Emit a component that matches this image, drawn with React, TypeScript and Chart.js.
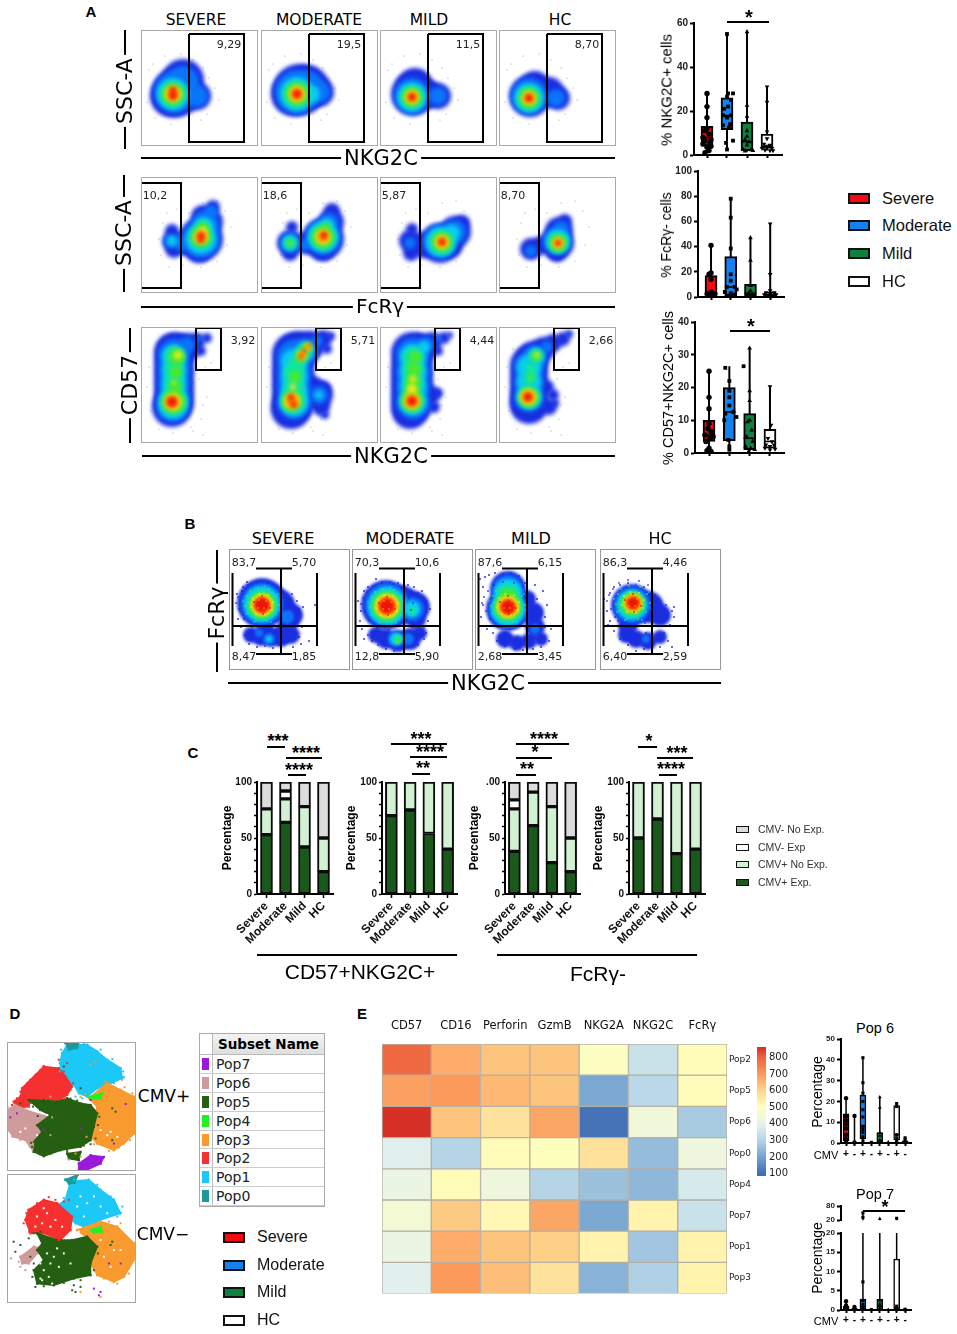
import { useEffect, useRef } from 'react';
import type { CSSProperties, ReactNode } from 'react';
import { Chart, registerables } from 'chart.js';

Chart.register(...registerables);

const ARIAL = '"Liberation Sans", Arial, sans-serif';
const FLOWFONT = '"DejaVu Sans", sans-serif';

// ── Panel A box plots: [min, q1, median, q3, max] ─────────────
const boxColors = ['#f50a14', '#1580f0', '#0f8040', '#ffffff'];
const boxShapes = ['circle', 'rect', 'triangle', 'triangle'];

const nkg2cBoxes = [[1, 4, 8, 13, 28], [2.5, 11.5, 18, 26, 55], [1.5, 2, 6, 15, 56], [2, 3, 4, 9.5, 31]];
const nkg2cPoints = [
  [[0, 28], [0, 22], [0, 17], [0, 12], [-.1, 11], [.1, 9.5], [-.2, 8], [.2, 7], [-.1, 6.5], [.15, 5.5], [-.2, 5], [.2, 4], [0, 3.5], [.1, 2], [-.1, 1]],
  [[0, 55], [.3, 28], [.05, 28], [0, 26.5], [.2, 25], [.05, 22], [-.15, 21], [-.2, 18], [.2, 18], [0, 17], [.15, 14], [-.2, 13.5], [.1, 12.5], [.3, 6.5], [-.05, 5.5], [0, 2.5]],
  [[0, 56], [0, 22.5], [0, 17.5], [0, 11], [0, 8.5], [-.1, 7], [.1, 6], [0, 4.5], [-.2, 2.5], [.2, 2.3], [.3, 2], [-.1, 1.8]],
  [[0, 31], [0, 24], [0, 10.5], [0, 7.5], [-.15, 5], [.15, 4.5], [0, 4], [-.25, 3], [.25, 3], [-.1, 2.2], [.15, 2], [.3, 2]],
];
const fcrBoxes = [[1, 1.5, 4, 17, 41], [0.5, 1, 8, 32, 78], [0.5, 1, 3, 10, 47], [0.5, 1, 2, 4, 58]];
const fcrPoints = [
  [[0, 41], [0, 19], [-.1, 18], [0, 14], [0, 4], [-.2, 2.5], [.2, 2.5], [.1, 1.5], [-.1, 1.5]],
  [[0, 78], [0, 63], [0, 38.5], [0, 18], [0, 13], [-.2, 8], [.2, 8], [.3, 6], [-.3, 4], [0, 3], [.2, 2], [-.2, 1]],
  [[0, 47], [0, 29], [0, 9], [0, 5], [-.1, 3], [.1, 2], [0, 1], [-.1, 0.5]],
  [[0, 58], [0, 18], [0, 5], [-.2, 3.5], [.2, 3.5], [0, 2.5], [-.3, 2], [.3, 2], [.1, 1]],
];
const cd57Boxes = [[0.5, 3.5, 5.5, 10, 25], [1, 3.8, 12.5, 20, 26.5], [0.5, 1, 4.5, 12, 32], [1, 1.5, 3.5, 7.2, 20.3]];
const cd57Points = [
  [[0, 25], [0, 17], [0, 13.5], [0, 9], [-.05, 7.5], [.1, 6.5], [-.2, 5.5], [.2, 5], [.05, 4.5], [-.15, 3.5], [0, 1.5], [-.1, .7], [.1, .5]],
  [[.7, 26.5], [-.2, 26], [0, 22], [0, 19], [0, 17], [0, 14.5], [.2, 12.5], [-.2, 12], [.35, 11], [-.25, 10], [-.05, 4], [0, 2], [0, 1]],
  [[0, 32], [0, 19], [0, 16], [0, 10], [-.1, 9.5], [.1, 7], [-.15, 5], [.15, 3.5], [-.2, 2], [.05, 1.5], [.25, 1], [-.05, .5]],
  [[0, 20.3], [.05, 8.5], [-.1, 4.5], [.1, 3.5], [-.2, 2.5], [.2, 2.5], [0, 2], [-.25, 1.5], [.25, 1.2], [0, 1]],
];

// ── Panel E small box plots ───────────────────────────────────
const popColors = ['#f50a14', '#f50a14', '#1580f0', '#1580f0', '#0f8040', '#0f8040', '#ffffff', '#ffffff'];
const popShapes = ['circle', 'circle', 'rect', 'rect', 'triangle', 'triangle', 'rect', 'rect'];
const cmvSigns = ['+', '-', '+', '-', '+', '-', '+', '-'];
const pop6Boxes = [[0, 1, 9, 14, 21.5], [0, 0, 0, 0, 13], [0.5, 2, 8, 23, 41], [0, 0, 0, 0, 0.3], [0, 0, 1, 5, 22], [0, 0, 0, 0, .5], [0, 1.5, 4, 18, 19.5], [0, 0, .5, 1, 2.5]];
const pop6Points = [
  [[0, 21.5], [0, 13], [0, 11], [0, 9], [0, 7], [0, 4], [0, 2], [0, .5]],
  [[0, 13], [0, .3]],
  [[0, 41], [0, 29], [0, 24], [0, 20], [0, 16], [0, 12.5], [0, 8], [0, 6.5], [0, 5], [0, 3], [0, 1]],
  [[0, .3]],
  [[0, 22], [0, 17], [0, 5], [0, 3.5], [0, 1.5], [0, .3]],
  [[0, .4]],
  [[0, 19], [0, 17.5], [0, 4], [0, 2.5], [0, 1], [0, .2]],
  [[0, 2.5], [0, 1.5], [0, .8], [0, .2]],
];
const pop7LowBoxes = [[0, 0.1, .5, 1, 2.5], [0, 0, .2, .4, .9], [0, 0.1, 1, 2.8, 20], [0, 0, 0, 0, .2], [0, 0.1, 1, 2.8, 20], [0, 0, 0, 0, .2], [0, 0.1, .5, 13.2, 20], [0, 0, 0, 0, .2]];
const pop7LowPoints = [
  [[0, 2.3], [0, 1.2], [0, .8], [0, .3]],
  [[0, .8], [0, .2]],
  [[0, 7.3], [0, 2.5], [0, 1.5], [0, .6], [0, .2]],
  [[0, .1]],
  [[0, 2.5], [0, 1.5], [0, .5], [0, .1]],
  [[0, .1]],
  [[0, 1], [0, .4], [0, .1]],
  [[0, .2], [0, .05]],
];
const pop7HighBoxes = [null, null, [20, 20, 20, 20, 51], null, [20, 20, 20, 20, 26], null, [20, 20, 20, 20, 28], null];
const pop7HighPoints = [[], [], [[0, 51], [0, 32]], [], [[0, 26]], [], [[0, 28]], []];

// ── Panel C stacked bars ──────────────────────────────────────
const groupLabels = ['Severe', 'Moderate', 'Mild', 'HC'];
const stackNames = ['CMV+ Exp.', 'CMV+ No Exp.', 'CMV- Exp', 'CMV- No Exp.'];
const stackColors = ['#19591a', '#d2f0d2', '#ffffff', '#dcdcdc'];
const stackA = [[53, 64, 42, 20], [23, 21, 36, 30], [0, 7, 0, 0], [24, 8, 22, 50]];
const stackB = [[70, 75, 54, 40], [30, 25, 46, 60], [0, 0, 0, 0], [0, 0, 0, 0]];
const stackC = [[38, 61, 28, 20], [38, 30, 50, 30], [8, 0, 0, 0], [16, 9, 22, 50]];
const stackD = [[50, 67, 36, 40], [50, 33, 64, 60], [0, 0, 0, 0], [0, 0, 0, 0]];

// ── Panel E heat map ──────────────────────────────────────────
const heatMarkers = ['CD57', 'CD16', 'Perforin', 'GzmB', 'NKG2A', 'NKG2C', 'FcRγ'];
const heatPops = ['Pop2', 'Pop5', 'Pop6', 'Pop0', 'Pop4', 'Pop7', 'Pop1', 'Pop3'];
const heatValues = [
  [790, 670, 630, 630, 490, 340, 510],
  [690, 700, 650, 630, 210, 310, 510],
  [860, 630, 570, 680, 110, 440, 280],
  [390, 300, 510, 500, 570, 250, 430],
  [420, 510, 430, 300, 260, 240, 370],
  [450, 620, 520, 680, 210, 530, 340],
  [420, 670, 630, 610, 530, 270, 530],
  [390, 700, 640, 570, 230, 290, 530],
];
const heatStops: [number, string][] = [
  [100, '#3f6fb4'], [200, '#74a3cf'], [300, '#b5d5e7'], [400, '#e6f3ec'], [500, '#ffffbd'],
  [600, '#fed68c'], [700, '#fc9a5c'], [800, '#ee6340'], [860, '#d73027'],
];

// ── Flow plots: one row per blob [density level, x, y, radius] ─
const levelColors = ['#1a2ee0', '#0a74fa', '#0cccf0', '#12e69a', '#4ce82c', '#f2e81e', '#ff8a00', '#f01408'];

const sscRow = [
  [[0, 36, 62, 25], [0, 42, 50, 21], [0, 56, 66, 14], [0, 30, 66, 21], [1, 34, 62, 21], [1, 42, 52, 16], [1, 56, 66, 11], [2, 32, 64, 16], [3, 32, 64, 13], [4, 32, 64, 10.5], [5, 32, 64, 8], [6, 32, 64, 6], [7, 32, 66, 3.8], [7, 32, 60, 3.2]],
  [[0, 38, 60, 26], [0, 46, 57, 22], [0, 58, 62, 15], [0, 32, 64, 22], [1, 36, 62, 22], [1, 46, 58, 17], [1, 58, 62, 11], [2, 36, 64, 17], [2, 50, 64, 9], [3, 36, 64, 13.5], [4, 36, 64, 11], [5, 36, 64, 8], [6, 36, 64, 6], [7, 36, 64, 4.2]],
  [[0, 33, 64, 22], [0, 35, 56, 18], [0, 58, 66, 13], [0, 48, 64, 14], [1, 32, 66, 18], [1, 58, 66, 9], [2, 32, 67, 14.5], [3, 32, 67, 11.5], [4, 32, 67, 9.5], [5, 32, 67, 7], [6, 32, 67, 5.2], [7, 32, 67, 3.5]],
  [[0, 31, 66, 21], [0, 36, 56, 15], [0, 50, 62, 15], [0, 59, 68, 12], [1, 30, 66, 18], [1, 57, 68, 9], [2, 30, 68, 14.5], [3, 30, 68, 12], [4, 30, 68, 9.5], [5, 30, 68, 7], [6, 30, 68, 5.2], [7, 30, 68, 3.5]],
];
const fcrRow = [
  [[0, 31, 64, 10], [0, 31, 54, 7], [0, 33, 72, 9], [0, 44, 66, 12], [0, 60, 62, 22], [0, 58, 72, 14], [0, 68, 45, 14], [0, 72, 30, 7], [0, 62, 40, 12], [1, 30, 64, 7], [1, 40, 66, 8], [1, 60, 62, 19], [1, 64, 48, 14], [1, 70, 35, 7], [2, 31, 64, 5], [2, 60, 62, 15], [2, 63, 50, 10], [3, 60, 60, 12], [3, 62, 50, 7], [4, 60, 60, 9.5], [4, 62, 52, 6], [5, 60, 60, 7], [5, 62, 54, 4], [6, 60, 60, 5.5], [7, 60, 58, 3], [7, 60, 63, 3]],
  [[0, 29, 66, 13], [0, 31, 50, 6], [0, 29, 76, 8], [0, 45, 66, 11], [0, 62, 62, 21], [0, 62, 72, 12], [0, 70, 45, 13], [0, 71, 34, 8], [1, 29, 66, 10], [1, 44, 68, 6], [1, 62, 60, 18], [1, 68, 46, 10], [2, 29, 66, 8], [2, 62, 60, 15], [2, 66, 48, 7], [3, 29, 66, 5.5], [3, 62, 60, 13], [4, 29, 66, 3.5], [4, 62, 60, 10.5], [4, 65, 50, 4], [5, 62, 60, 7.5], [6, 62, 60, 5.5], [7, 63, 58, 3.2]],
  [[0, 30, 64, 11], [0, 32, 52, 6], [0, 31, 76, 8], [0, 44, 68, 13], [0, 60, 66, 20], [0, 75, 55, 16], [0, 82, 46, 8], [0, 70, 68, 13], [1, 60, 64, 17], [1, 74, 55, 12], [1, 30, 66, 6], [2, 61, 65, 15], [2, 72, 56, 8], [3, 62, 65, 12], [4, 62, 65, 9.5], [5, 62, 65, 7], [6, 62, 65, 5], [7, 62, 65, 3.2]],
  [[0, 32, 72, 11], [0, 42, 68, 9], [0, 58, 66, 17], [0, 60, 54, 14], [0, 66, 44, 7], [0, 58, 76, 9], [1, 32, 74, 6], [1, 58, 64, 14], [1, 62, 52, 8], [2, 59, 64, 12], [3, 59, 66, 10], [4, 59, 66, 8], [5, 59, 66, 5.5], [6, 59, 66, 4], [7, 59, 66, 2.6]],
];
const cd57Row = [
  [[0, 33, 26, 20], [0, 33, 38, 20], [0, 33, 50, 20], [0, 33, 62, 20], [0, 33, 74, 20], [0, 31, 80, 20], [0, 34, 24, 18], [0, 46, 20, 14], [0, 56, 14, 8], [0, 66, 11, 5], [0, 60, 24, 5],
    [1, 33, 28, 16], [1, 33, 42, 16], [1, 33, 56, 16], [1, 33, 70, 16], [1, 32, 78, 17], [1, 46, 18, 8], [1, 58, 12, 3],
    [2, 33, 30, 12], [2, 33, 44, 12], [2, 33, 58, 12], [2, 33, 72, 13], [2, 32, 78, 14],
    [3, 33, 28, 9], [3, 33, 40, 9], [3, 33, 52, 9], [3, 33, 64, 9], [3, 32, 75, 13],
    [4, 36, 30, 8], [4, 35, 45, 6], [4, 34, 60, 6.5], [4, 33, 75, 11],
    [5, 37, 28, 4], [5, 33, 55, 2], [5, 32, 75, 8.5], [6, 31, 75, 6.5], [7, 31, 75, 5]],
  [[0, 32, 27, 21], [0, 32, 40, 21], [0, 32, 52, 21], [0, 32, 64, 21], [0, 32, 76, 21], [0, 30, 82, 20], [0, 38, 24, 20], [0, 50, 18, 14], [0, 62, 12, 9], [0, 70, 9, 4], [0, 66, 22, 5], [0, 58, 68, 14], [0, 62, 62, 8], [0, 60, 80, 9], [0, 64, 88, 4], [0, 50, 60, 12],
    [1, 33, 30, 17], [1, 33, 45, 17], [1, 33, 60, 17], [1, 33, 75, 17], [1, 44, 24, 13], [1, 56, 14, 6], [1, 58, 68, 9],
    [2, 33, 35, 13], [2, 33, 50, 13], [2, 33, 65, 13], [2, 33, 75, 14], [2, 44, 24, 9], [2, 58, 68, 4],
    [3, 33, 45, 10], [3, 33, 60, 10], [3, 32, 74, 12], [3, 42, 26, 8], [3, 36, 36, 7],
    [4, 34, 50, 6], [4, 31, 74, 10], [4, 40, 30, 6], [4, 46, 20, 5],
    [5, 32, 60, 3], [5, 31, 74, 8], [5, 41, 28, 4.5], [5, 47, 20, 3.5],
    [6, 31, 74, 6], [6, 41, 28, 3.2], [6, 47, 20, 2.5],
    [7, 30, 70, 3], [7, 33, 78, 3], [7, 40, 30, 2], [7, 43, 24, 2], [7, 49, 18, 1.5]],
  [[0, 32, 26, 21], [0, 32, 40, 21], [0, 32, 52, 21], [0, 32, 64, 21], [0, 32, 76, 21], [0, 30, 84, 18], [0, 40, 22, 16], [0, 52, 15, 10], [0, 64, 11, 6], [0, 70, 8, 3], [0, 58, 24, 5], [0, 50, 68, 10], [0, 58, 66, 5], [0, 54, 80, 6],
    [1, 33, 28, 17], [1, 33, 45, 17], [1, 33, 60, 17], [1, 33, 75, 17], [1, 46, 18, 8], [1, 58, 11, 3],
    [2, 33, 30, 13], [2, 33, 45, 13], [2, 33, 60, 13], [2, 33, 75, 13], [2, 44, 20, 6],
    [3, 33, 30, 10], [3, 33, 42, 10], [3, 33, 55, 10], [3, 32, 74, 12],
    [4, 35, 30, 6], [4, 34, 42, 7], [4, 33, 54, 7], [4, 32, 64, 8], [4, 32, 74, 10],
    [5, 33, 52, 3.5], [5, 32, 62, 5], [5, 32, 74, 8], [6, 32, 74, 6.5], [7, 32, 74, 4.5]],
  [[0, 30, 38, 19], [0, 30, 50, 19], [0, 30, 62, 19], [0, 30, 72, 19], [0, 30, 78, 19], [0, 34, 30, 16], [0, 44, 22, 12], [0, 54, 16, 9], [0, 64, 12, 7], [0, 70, 7, 4], [0, 48, 60, 7], [0, 54, 68, 6], [0, 50, 80, 8], [0, 56, 76, 4],
    [1, 30, 40, 15], [1, 30, 55, 15], [1, 30, 70, 15], [1, 36, 30, 12], [1, 48, 20, 6],
    [2, 30, 40, 12], [2, 30, 55, 12], [2, 30, 70, 12], [2, 37, 29, 8],
    [3, 30, 70, 11], [3, 31, 52, 6], [3, 32, 42, 6], [3, 37, 29, 7],
    [4, 30, 70, 9.5], [4, 32, 50, 3], [4, 37, 29, 4.5],
    [5, 29, 70, 8], [5, 38, 28, 2.5], [6, 29, 70, 6], [7, 29, 70, 4]],
];
const sscDust = [[8, 40], [12, 34], [24, 26], [40, 24], [52, 30], [62, 38], [68, 48], [74, 58], [78, 70], [66, 84], [60, 90], [48, 92], [30, 94], [14, 88], [6, 72]];
const fcrDust = [[26, 36], [22, 46], [18, 62], [20, 78], [28, 90], [42, 88], [60, 90], [76, 84], [86, 68], [90, 50], [84, 34], [76, 24], [62, 26], [48, 36], [36, 32]];
const cd57Dust = [[8, 40], [6, 60], [10, 84], [18, 102], [32, 106], [50, 100], [60, 92], [62, 78], [66, 70], [58, 52], [64, 40], [70, 36], [52, 104], [62, 108], [14, 22]];
const sscLabels = ['9,29', '19,5', '11,5', '8,70'];
const fcrLabels = ['10,2', '18,6', '5,87', '8,70'];
const cd57Labels = ['3,92', '5,71', '4,44', '2,66'];
const flowTitles = ['SEVERE', 'MODERATE', 'MILD', 'HC'];

const quadrantRow = [
  [[0, 33, 54, 25], [0, 50, 56, 16], [0, 62, 66, 12], [0, 60, 74, 9], [0, 22, 86, 8], [0, 32, 88, 9], [0, 42, 88, 10], [0, 52, 88, 10], [0, 62, 86, 9], [0, 36, 80, 8], [0, 55, 80, 8], [1, 33, 55, 21], [1, 58, 68, 7], [1, 40, 90, 6], [1, 30, 84, 4], [2, 33, 55, 18], [2, 40, 90, 3], [3, 33, 56, 15], [4, 33, 56, 13], [5, 33, 56, 11], [6, 33, 56, 9], [7, 33, 56, 7.5]],
  [[0, 34, 56, 25], [0, 48, 56, 20], [0, 62, 58, 16], [0, 64, 70, 10], [0, 24, 86, 8], [0, 34, 90, 10], [0, 46, 92, 11], [0, 58, 90, 11], [0, 68, 84, 7], [1, 35, 56, 22], [1, 60, 60, 12], [1, 44, 90, 8], [1, 56, 90, 6], [2, 35, 57, 19], [2, 60, 60, 8], [2, 44, 90, 6], [3, 35, 57, 16], [3, 60, 62, 4], [3, 46, 90, 4.5], [4, 35, 57, 14], [4, 46, 92, 2.5], [5, 35, 57, 12], [6, 35, 57, 10], [7, 35, 57, 7.5]],
  [[0, 33, 40, 18], [0, 33, 60, 22], [0, 52, 50, 9], [0, 58, 64, 11], [0, 60, 78, 10], [0, 30, 90, 9], [0, 42, 94, 8], [0, 54, 92, 8], [0, 66, 90, 7], [1, 33, 42, 16], [1, 33, 60, 19], [1, 60, 80, 5], [2, 33, 44, 14], [2, 33, 60, 17], [3, 33, 46, 11], [3, 33, 58, 15], [4, 33, 48, 8], [4, 33, 58, 13], [5, 33, 58, 11], [6, 33, 58, 9], [7, 33, 58, 7]],
  [[0, 32, 56, 21], [0, 48, 58, 16], [0, 60, 66, 11], [0, 26, 86, 8], [0, 36, 90, 9], [0, 48, 92, 9], [0, 60, 88, 7], [0, 28, 76, 10], [1, 32, 56, 18], [1, 46, 90, 4], [2, 32, 56, 15], [3, 32, 55, 13], [4, 33, 55, 11], [5, 33, 54, 9.5], [6, 33, 54, 8], [7, 33, 54, 6]],
];
const quadrantCores = [[33, 56], [35, 57], [33, 56], [33, 54]];
const quadrantGrain = [
  [0, -24, -8], [0, -22, 6], [0, -20, -14], [0, -14, -20], [0, -5, -23], [0, 6, -22], [0, 15, -18], [0, 22, -8], [0, 24, 4], [0, 20, 14], [0, 12, 20], [0, 2, 24], [0, -10, 22], [0, -18, 14], [0, -26, -2], [0, 26, -3],
  [2, -19, -4], [2, -16, 9], [2, -8, 17], [2, 9, 17], [2, 18, 5], [2, 16, -11], [2, 3, -19],
  [4, -15, -9], [4, -12, -14], [4, -4, -17], [4, 7, -16], [4, 14, -9], [4, 17, 0], [4, 13, 9], [4, 5, 16], [4, -6, 16], [4, -14, 8], [4, -17, 1],
  [5, -9, -7], [5, -3, -11], [5, 6, -10], [5, 11, -3], [5, 10, 5], [5, 3, 10], [5, -6, 9], [5, -11, 2],
  [7, -8, -3], [7, 8, 3], [7, 0, -9], [7, 1, 9],
  [6, -3, -5], [6, 4, -4], [6, 2, 3], [6, -4, 3],
];
const quadrantSpeckle = [
  [[8, 45], [10, 60], [14, 38], [18, 33], [25, 34], [32, 33], [40, 36], [48, 40], [56, 47], [63, 45], [68, 52], [74, 58], [86, 56], [9, 70], [12, 78], [16, 86], [20, 95], [28, 98], [36, 97], [44, 99], [50, 96], [58, 93], [64, 98], [70, 88], [73, 78], [68, 66], [62, 82], [72, 95], [80, 92], [58, 60], [64, 70], [12, 52], [22, 82], [40, 84], [70, 60], [52, 82]],
  [[0, 44], [6, 52], [9, 62], [12, 42], [16, 38], [24, 36], [30, 33], [38, 33], [46, 34], [56, 36], [62, 38], [70, 42], [74, 52], [78, 60], [76, 72], [72, 78], [8, 72], [10, 80], [16, 86], [20, 92], [26, 96], [34, 100], [42, 102], [50, 100], [58, 98], [66, 96], [72, 90], [74, 84], [24, 30], [66, 44], [12, 90], [28, 84], [60, 78], [68, 66]],
  [[-1, 52], [5, 30], [8, 38], [10, 28], [14, 26], [20, 24], [28, 25], [36, 24], [44, 27], [50, 34], [60, 36], [68, 42], [72, 56], [70, 68], [76, 80], [74, 92], [66, 98], [58, 100], [48, 101], [40, 100], [30, 97], [22, 92], [18, 84], [12, 80], [6, 68], [8, 56], [62, 50], [66, 62], [54, 88], [30, 84], [42, 92], [60, 88], [62, 74], [70, 78]],
  [[4, 50], [7, 62], [10, 44], [14, 38], [20, 36], [28, 34], [36, 36], [44, 38], [50, 44], [58, 50], [66, 56], [72, 62], [74, 68], [70, 76], [64, 84], [68, 92], [60, 98], [52, 100], [44, 100], [36, 102], [28, 96], [20, 90], [14, 82], [10, 72], [74, 58], [56, 92], [30, 88], [40, 92], [46, 84], [72, 98], [60, 72], [18, 72], [8, 76]],
];
const quadrantLabels = [['83,7', '5,70', '8,47', '1,85'], ['70,3', '10,6', '12,8', '5,90'], ['87,6', '6,15', '2,68', '3,45'], ['86,3', '4,46', '6,40', '2,59']];

// ── Panel D t-SNE clusters: outlines read in a 20-406 wide frame ─
const tsneColors: Record<string, string> = {
  Pop7: '#9b19d9', Pop6: '#cf9a9a', Pop5: '#245f12', Pop4: '#22f022', Pop3: '#f89a2e', Pop2: '#f5302e', Pop1: '#1cc8f5', Pop0: '#1b9a9a',
};
const tsneTopAreas: [string, number[][]][] = [
  ['Pop1', [[185, 160], [200, 135], [260, 135], [290, 155], [320, 180], [360, 205], [365, 235], [320, 255], [290, 265], [260, 290], [235, 280], [220, 255], [205, 250], [185, 220], [178, 190]]],
  ['Pop0', [[195, 130], [235, 127], [230, 145], [205, 150]]],
  ['Pop2', [[130, 200], [175, 205], [195, 230], [215, 260], [200, 285], [170, 305], [130, 295], [90, 300], [85, 320], [45, 325], [40, 305], [60, 290], [65, 265], [90, 240]]],
  ['Pop3', [[300, 265], [320, 250], [360, 270], [400, 290], [406, 340], [400, 400], [370, 430], [340, 450], [290, 430], [262, 400], [275, 360], [290, 320], [265, 295]]],
  ['Pop6', [[20, 330], [45, 315], [90, 335], [145, 350], [110, 375], [130, 400], [105, 425], [100, 455], [75, 420], [40, 410], [20, 385]]],
  ['Pop5', [[85, 300], [130, 300], [170, 305], [200, 295], [240, 310], [270, 315], [290, 340], [280, 380], [270, 420], [240, 440], [180, 450], [130, 468], [100, 455], [105, 420], [125, 395], [110, 375], [150, 345], [120, 330]]],
  ['Pop5', [[200, 460], [240, 455], [235, 480], [205, 475]]],
  ['Pop7', [[235, 490], [270, 465], [310, 470], [300, 490], [260, 508], [235, 508]]],
  ['Pop4', [[265, 290], [305, 280], [300, 297], [270, 297]]],
];
const tsneBottomAreas: [string, number[][]][] = [
  ['Pop1', [[165, 620], [195, 600], [210, 545], [265, 540], [300, 570], [340, 600], [360, 640], [300, 660], [260, 685], [225, 670], [190, 640]]],
  ['Pop0', [[195, 540], [232, 525], [222, 550], [205, 552]]],
  ['Pop2', [[85, 630], [130, 600], [170, 610], [215, 650], [210, 690], [180, 720], [130, 700], [90, 700], [75, 660]]],
  ['Pop3', [[230, 690], [300, 665], [350, 680], [400, 730], [406, 770], [370, 830], [340, 845], [290, 825], [270, 790], [280, 730]]],
  ['Pop6', [[60, 770], [100, 740], [145, 745], [110, 760], [85, 790], [65, 790]]],
  ['Pop5', [[110, 700], [170, 720], [215, 720], [260, 710], [290, 740], [270, 790], [270, 825], [220, 835], [160, 855], [110, 850], [100, 810], [130, 780], [110, 750], [125, 730]]],
  ['Pop4', [[270, 690], [300, 680], [305, 695], [280, 698]]],
];
const tsneTopStray: [string, number[][]][] = [
  ['Pop5', [[335, 325], [345, 335], [190, 200], [240, 265], [100, 425], [335, 420], [60, 310], [98, 320], [92, 308], [112, 348], [95, 440], [92, 428], [118, 462], [150, 460], [200, 452], [250, 436], [270, 432], [285, 415], [292, 375], [296, 350], [210, 296], [230, 302]]],
  ['Pop3', [[285, 185], [270, 195], [365, 240], [240, 470], [225, 460], [315, 245], [372, 262], [395, 280], [408, 310], [408, 375], [388, 420], [355, 442], [325, 452], [280, 432], [258, 410], [240, 290], [254, 282]]],
  ['Pop7', [[50, 340], [30, 352], [375, 312], [240, 385], [340, 430], [130, 390], [270, 300]]],
  ['Pop2', [[175, 180], [200, 190], [190, 215], [210, 270], [120, 210], [105, 225], [80, 250], [60, 275], [50, 295], [35, 315], [218, 250], [195, 295]]],
  ['Pop6', [[150, 290], [205, 478], [150, 405], [16, 350], [22, 322], [35, 408], [60, 420], [88, 440], [155, 352]]],
  ['Pop1', [[225, 290], [245, 295], [182, 150], [210, 128], [250, 130], [300, 150], [335, 178], [368, 215], [370, 232], [340, 250], [178, 215]]],
  ['white', [[60, 395], [75, 385], [110, 405], [320, 405], [350, 410], [300, 390], [330, 395], [140, 345]]],
];
const tsneBottomStray: [string, number[][]][] = [
  ['Pop5', [[40, 725], [45, 755], [60, 735], [85, 715], [90, 770], [100, 790], [215, 870], [220, 855], [240, 860], [335, 725], [330, 735], [225, 875], [100, 700], [120, 695], [96, 830], [105, 860], [130, 858], [190, 848], [240, 840], [280, 810], [292, 760]]],
  ['Pop6', [[32, 775], [60, 800], [75, 810], [55, 785]]],
  ['Pop7', [[280, 865], [300, 875], [295, 885], [360, 790], [325, 790]]],
  ['Pop3', [[240, 875], [300, 890], [400, 750], [408, 790], [385, 820], [350, 850], [310, 835], [360, 670], [325, 665]]],
  ['Pop2', [[145, 592], [190, 605], [205, 600], [165, 600], [175, 720], [78, 640], [70, 670], [86, 695], [110, 610]]],
  ['Pop1', [[350, 650], [365, 620], [220, 540], [310, 655], [360, 640], [330, 590], [290, 555], [205, 575], [190, 595]]],
  ['white', [[110, 650], [125, 670], [140, 640], [150, 680], [165, 660], [105, 680], [185, 680], [130, 625], [225, 700], [215, 705], [235, 695],
    [160, 770], [150, 790], [175, 800], [130, 810], [145, 830], [120, 835], [190, 760], [170, 745], [120, 790], [210, 790], [140, 760], [125, 840], [155, 850],
    [240, 590], [260, 610], [280, 590], [230, 620], [300, 620], [320, 640], [250, 650], [340, 750], [310, 770], [360, 750], [300, 720], [330, 800]]],
];
const subsetRows = ['Pop7', 'Pop6', 'Pop5', 'Pop4', 'Pop3', 'Pop2', 'Pop1', 'Pop0'];

// ── helpers ───────────────────────────────────────────────────
type Rect = [number, number, number, number];

function ChartCanvas({ rect, make }: { rect: Rect; make: () => any }) {
  const ref = useRef<HTMLCanvasElement>(null);
  useEffect(() => {
    if (!ref.current) return;
    const chart = new Chart(ref.current, make());
    return () => chart.destroy();
  }, []);
  return (
    <canvas
      ref={ref}
      width={rect[2]}
      height={rect[3]}
      style={{ position: 'absolute', left: rect[0], top: rect[1], width: rect[2], height: rect[3] }}
    />
  );
}

function T({ x, y, s, f = ARIAL, w = 400, r = 0, c = '#000', left = false, bg, children }: {
  x: number; y: number; s: number; f?: string; w?: number; r?: number; c?: string; left?: boolean; bg?: string; children: ReactNode;
}) {
  const style: CSSProperties = {
    position: 'absolute', left: x, top: y, fontFamily: f, fontSize: s, fontWeight: w, color: c, whiteSpace: 'nowrap', lineHeight: 1,
    transform: `translate(${left ? '0' : '-50%'},-50%) rotate(${r}deg)`,
    background: bg, padding: bg ? '0 3px' : 0,
  };
  return <div style={style}>{children}</div>;
}

function Line({ x1, y1, x2, y2, t = 2 }: { x1: number; y1: number; x2: number; y2: number; t?: number }) {
  const h = y1 === y2;
  return (
    <div style={{
      position: 'absolute', background: '#000',
      left: h ? x1 : x1 - t / 2, top: h ? y1 - t / 2 : y1,
      width: h ? x2 - x1 : t, height: h ? t : y2 - y1,
    }} />
  );
}

function Swatch({ x, y, w, h, color, t = 2 }: { x: number; y: number; w: number; h: number; color: string; t?: number }) {
  return <div style={{ position: 'absolute', left: x, top: y - h / 2, width: w, height: h, boxSizing: 'border-box', border: `${t}px solid #111`, background: color }} />;
}

const quietPlugins = { legend: { display: false }, tooltip: { enabled: false } };

function toRgb(hex: string) {
  return [parseInt(hex.slice(1, 3), 16), parseInt(hex.slice(3, 5), 16), parseInt(hex.slice(5, 7), 16)];
}

function heatColor(v: number) {
  for (let i = 1; i < heatStops.length; i++) {
    if (v <= heatStops[i][0]) {
      const [a, ca] = heatStops[i - 1];
      const [b, cb] = heatStops[i];
      const t = Math.max(0, (v - a) / (b - a));
      const p = toRgb(ca), q = toRgb(cb);
      return `rgb(${p.map((c, k) => Math.round(c + (q[k] - c) * t)).join(',')})`;
    }
  }
  return heatStops[heatStops.length - 1][1];
}

// Blur only the density blobs, not the gates
const blobBlur = (px: number) => ({
  id: 'blobBlur',
  beforeDatasetDraw(chart: any, args: any) {
    chart.ctx.filter = args.meta.type === 'bubble' ? `blur(${px}px)` : 'none';
  },
  afterDatasetDraw(chart: any) {
    chart.ctx.filter = 'none';
  },
});

function flowConfig(w: number, h: number, blobs: number[][], gate: (number[] | null)[], blur: number, speckle?: number[][], dust?: number[][], core?: number[]) {
  const datasets: any[] = levelColors.map((color, level) => ({
    type: 'bubble',
    data: blobs.filter(b => b[0] === level).map(b => ({ x: b[1], y: b[2], r: b[3] })),
    backgroundColor: color,
    borderWidth: 0,
    order: -level,
  }));
  if (dust) {
    datasets.push({
      type: 'scatter',
      data: dust.map(p => ({ x: p[0], y: p[1] })),
      backgroundColor: '#9a9a80',
      pointRadius: 0.6,
      borderWidth: 0,
      order: 6,
    });
  }
  if (speckle) {
    datasets.push({
      type: 'scatter',
      data: speckle.map(p => ({ x: p[0], y: p[1] })),
      backgroundColor: '#1010e8',
      pointStyle: 'rect',
      pointRadius: 1.2,
      borderWidth: 0,
      order: 5,
    });
  }
  if (core) {
    levelColors.forEach((color, level) => {
      const pts = quadrantGrain.filter(g => g[0] === level).map(g => ({ x: core[0] + g[1], y: core[1] + g[2] }));
      if (!pts.length) return;
      datasets.push({ type: 'scatter', data: pts, backgroundColor: color, pointStyle: 'rect', pointRadius: 1.1, borderWidth: 0, order: -20 });
    });
  }
  datasets.push({
    type: 'scatter',
    data: gate.map(p => (p ? { x: p[0], y: p[1] } : { x: NaN, y: NaN })),
    showLine: true,
    spanGaps: false,
    pointRadius: 0,
    borderColor: '#000',
    borderWidth: 2,
    order: -100,
  });
  return {
    type: 'bubble',
    data: { datasets },
    plugins: [blobBlur(blur)],
    options: {
      animation: false,
      responsive: false,
      layout: { autoPadding: false },
      plugins: quietPlugins,
      scales: {
        x: { type: 'linear', min: 0, max: w, display: false },
        y: { type: 'linear', min: 0, max: h, reverse: true, display: false },
      },
    },
  };
}

function FlowPlot({ x, y, w, h, blobs, gate, label, labelAt, dust, blur = 2 }: {
  x: number; y: number; w: number; h: number; blobs: number[][]; gate: (number[] | null)[]; label: string; labelAt: number[]; dust: number[][]; blur?: number;
}) {
  return (
    <>
      <ChartCanvas rect={[x, y, w, h]} make={() => flowConfig(w, h, blobs, gate, blur, undefined, dust)} />
      <div style={{ position: 'absolute', left: x, top: y, width: w, height: h, boxSizing: 'border-box', border: '1.5px solid #a9a9a9' }} />
      <T x={x + labelAt[0]} y={y + labelAt[1]} s={11} f={FLOWFONT} c="#222">{label}</T>
    </>
  );
}

function boxConfig(o: {
  plot: number[]; xRange: number[]; yRange: number[]; step: number; boxes: (number[] | null)[]; points: number[][][];
  colors: string[]; shapes: string[]; barW: number; halfW: number; r: number; font: number; line?: number; hideX?: boolean; yTicks?: number[]; rotateLast?: boolean;
}, m: number[]) {
  const lw = o.line || 2;
  const idx = o.boxes.map((_, i) => i);
  const whiskers: any[] = [];
  const medians: any[] = [];
  o.boxes.forEach((b, i) => {
    if (!b) return;
    whiskers.push({ x: i, y: b[0] }, { x: i, y: b[4] }, { x: NaN, y: NaN });
    if (b[3] > b[1]) medians.push({ x: i - o.halfW, y: b[2] }, { x: i + o.halfW, y: b[2] }, { x: NaN, y: NaN });
  });
  const bars = idx.filter(i => o.boxes[i] && o.boxes[i]![3] > o.boxes[i]![1]).map(i => ({ x: i, y: [o.boxes[i]![1], o.boxes[i]![3]] }));
  const datasets: any[] = [
    { type: 'scatter', data: whiskers, showLine: true, spanGaps: false, pointRadius: 0, borderColor: '#000', borderWidth: lw, order: 4, clip: false },
    { type: 'bar', data: bars, backgroundColor: (c: any) => o.colors[c.raw ? c.raw.x : 0], borderColor: '#000', borderWidth: lw, borderSkipped: false, barThickness: o.barW, order: 3 },
    { type: 'scatter', data: medians, showLine: true, spanGaps: false, pointRadius: 0, borderColor: '#000', borderWidth: 1.5, order: 2 },
    ...o.points.map((pts, i) => ({
      type: 'scatter',
      data: pts.map(p => ({ x: i + p[0], y: p[1] })),
      backgroundColor: '#000',
      borderWidth: 0,
      pointStyle: o.shapes[i],
      pointRotation: o.rotateLast && i === o.points.length - 1 ? 180 : 0,
      pointRadius: o.r,
      order: 1,
      clip: false,
    })),
  ];
  return {
    type: 'bar',
    data: { datasets },
    options: {
      animation: false,
      responsive: false,
      plugins: quietPlugins,
      layout: { autoPadding: false, padding: { top: m[1], right: m[2] } },
      scales: {
        x: {
          type: 'linear', min: o.xRange[0], max: o.xRange[1], offset: false,
          display: !o.hideX,
          afterFit: (s: any) => { s.height = m[3]; },
          afterBuildTicks: (s: any) => { s.ticks = idx.map(value => ({ value })); },
          grid: { display: true, drawOnChartArea: false, tickLength: 3, tickWidth: 2, tickColor: '#000', offset: false },
          border: { width: 2, color: '#000' },
          ticks: { autoSkip: false, maxRotation: 0, callback: () => '' },
        },
        y: {
          type: 'linear', min: o.yRange[0], max: o.yRange[1],
          afterFit: (s: any) => { s.width = m[0]; },
          ...(o.yTicks ? { afterBuildTicks: (s: any) => { s.ticks = o.yTicks!.map(value => ({ value })); } } : {}),
          grid: { display: true, drawOnChartArea: false, tickLength: 4, tickWidth: 2, tickColor: '#000' },
          border: { width: 2, color: '#000' },
          ticks: { stepSize: o.step, autoSkip: false, padding: 2, color: '#222', font: { family: ARIAL, size: o.font, weight: 'bold' } },
        },
      },
    },
  };
}

function BoxChart(p: any) {
  const m = p.margins || [30, 10, 10, 10];
  const [left, top, right, bottom] = p.plot;
  const rect: Rect = [left - m[0], top - m[1], right - left + m[0] + m[2], bottom - top + m[1] + m[3]];
  return <ChartCanvas rect={rect} make={() => boxConfig(p, m)} />;
}

function stackConfig(stack: number[][], topLabel: string, m: number[]) {
  return {
    type: 'bar',
    data: {
      labels: groupLabels,
      datasets: stack.map((values, i) => ({
        label: stackNames[i],
        data: values,
        backgroundColor: stackColors[i],
        borderColor: '#0b0b0b',
        borderWidth: 2,
        borderSkipped: false,
        barThickness: 12,
      })),
    },
    options: {
      animation: false,
      responsive: false,
      plugins: quietPlugins,
      layout: { autoPadding: false, padding: { top: m[1], right: m[2] } },
      scales: {
        x: {
          stacked: true,
          afterFit: (s: any) => { s.height = m[3]; },
          grid: { display: true, drawOnChartArea: false, offset: false, tickLength: 4, tickWidth: 1.5, tickColor: '#000' },
          border: { width: 2, color: '#000' },
          ticks: { autoSkip: false, minRotation: 45, maxRotation: 45, padding: 1, color: '#111', font: { family: ARIAL, size: 12, weight: 'bold' } },
        },
        y: {
          stacked: true, min: 0, max: 100,
          afterFit: (s: any) => { s.width = m[0]; },
          grid: { display: true, drawOnChartArea: false, tickLength: 3, tickWidth: 1.5, tickColor: '#000' },
          border: { width: 2, color: '#000' },
          ticks: {
            stepSize: 10, autoSkip: false, padding: 2, color: '#111', font: { family: ARIAL, size: 10, weight: 'bold' },
            callback: (v: number) => (v === 100 ? topLabel : v % 50 === 0 ? String(v) : ''),
          },
        },
      },
    },
  };
}

function StackChart({ stack, left, right, topLabel = '100' }: { stack: number[][]; left: number; right: number; topLabel?: string }) {
  const m = [30, 8, 8, 70];
  const rect: Rect = [left - m[0], 782 - m[1], right - left + m[0] + m[2], 112 + m[1] + m[3]];
  return <ChartCanvas rect={rect} make={() => stackConfig(stack, topLabel, m)} />;
}

function heatConfig() {
  return {
    type: 'bar',
    data: {
      labels: heatMarkers,
      datasets: heatValues.map((row, i) => ({
        label: heatPops[i],
        data: row.map(() => 1),
        backgroundColor: row.map(heatColor),
        borderColor: '#b5afa6',
        borderWidth: 1,
        borderSkipped: false,
        categoryPercentage: 1,
        barPercentage: 1,
      })),
    },
    options: {
      animation: false,
      responsive: false,
      plugins: quietPlugins,
      layout: { autoPadding: false, padding: { left: 4, bottom: 4 } },
      scales: {
        x: {
          stacked: true, position: 'top',
          afterFit: (s: any) => { s.height = 30; },
          grid: { display: false, drawTicks: false }, border: { display: false },
          ticks: { autoSkip: false, minRotation: 0, maxRotation: 0, padding: 11, color: '#111', font: { family: FLOWFONT, size: 11.5 } },
        },
        y: {
          stacked: true, position: 'right', reverse: true, min: 0, max: 8,
          afterFit: (s: any) => { s.width = 32; },
          afterBuildTicks: (s: any) => { s.ticks = heatPops.map((_, i) => ({ value: i + 0.5 })); },
          grid: { display: false, drawTicks: false }, border: { display: false },
          ticks: { autoSkip: false, padding: 2, color: '#222', font: { family: FLOWFONT, size: 9 }, callback: (v: number) => heatPops[Math.floor(v)] },
        },
      },
    },
  };
}

function colorbarConfig() {
  return {
    type: 'bar',
    data: {
      labels: [''],
      datasets: [{
        data: [[85, 864]],
        categoryPercentage: 1,
        barPercentage: 1,
        backgroundColor: (c: any) => {
          const { chart } = c;
          const area = chart.chartArea;
          if (!area) return '#fff';
          const g = chart.ctx.createLinearGradient(0, area.bottom, 0, area.top);
          heatStops.forEach(([v, col]) => g.addColorStop(Math.min(1, Math.max(0, (v - 85) / 779)), col));
          return g;
        },
      }],
    },
    options: {
      animation: false,
      responsive: false,
      plugins: quietPlugins,
      layout: { autoPadding: false, padding: { top: 6, bottom: 6 } },
      scales: {
        x: { display: false },
        y: {
          position: 'right', min: 85, max: 864,
          afterFit: (s: any) => { s.width = 36; },
          afterBuildTicks: (s: any) => { s.ticks = [100, 200, 300, 400, 500, 600, 700, 800].map(value => ({ value })); },
          grid: { display: false, drawTicks: false }, border: { display: false },
          ticks: { padding: 3, color: '#222', font: { family: FLOWFONT, size: 10 } },
        },
      },
    },
  };
}

function tsneConfig(yMin: number, yMax: number, areas: [string, number[][]][], stray: [string, number[][]][]) {
  const datasets: any[] = [];
  areas.forEach(([pop, pts], i) => {
    datasets.push({
      type: 'scatter',
      data: [...pts, pts[0]].map(p => ({ x: p[0], y: p[1] })),
      showLine: true,
      fill: 'shape',
      backgroundColor: tsneColors[pop],
      borderColor: tsneColors[pop],
      borderWidth: 1.5,
      pointRadius: 1.6,
      pointStyle: 'rect',
      pointBackgroundColor: tsneColors[pop],
      pointBorderWidth: 0,
      order: 50 - i,
    });
  });
  stray.forEach(([pop, pts], i) => {
    datasets.push({
      type: 'scatter',
      data: pts.map(p => ({ x: p[0], y: p[1] })),
      backgroundColor: tsneColors[pop] || '#fff',
      pointStyle: 'rect',
      pointRadius: 1.4,
      borderWidth: 0,
      order: 10 - i,
    });
  });
  return {
    type: 'scatter',
    data: { datasets },
    options: {
      animation: false,
      responsive: false,
      layout: { autoPadding: false },
      plugins: quietPlugins,
      scales: {
        x: { type: 'linear', min: 20, max: 406, display: false },
        y: { type: 'linear', min: yMin, max: yMax, reverse: true, display: false },
      },
    },
  };
}

function Stars({ x, y, n, s = 18 }: { x: number; y: number; n: number; s?: number }) {
  return <T x={x} y={y + 1} s={s} w={700} f={ARIAL}>{'*'.repeat(n)}</T>;
}

function TsneBox({ y, yRange, areas, stray }: { y: number; yRange: number[]; areas: [string, number[][]][]; stray: [string, number[][]][] }) {
  return (
    <>
      <ChartCanvas rect={[7, y, 129, 129]} make={() => tsneConfig(yRange[0], yRange[1], areas, stray)} />
      <div style={{ position: 'absolute', left: 7, top: y, width: 129, height: 129, boxSizing: 'border-box', border: '1.5px solid #a5a5a5' }} />
    </>
  );
}

const flowX = [141, 261, 380, 499];
const quadX = [229, 352, 475, 600];
const quadGate = [[3.5, 24], [3.5, 97], null, [88, 24], [88, 97], null, [52, 19.5], [52, 105], null, [3.5, 77], [88, 77], null, [27, 19.5], [63, 19.5], null, [27, 105], [63, 105]];

export default function App() {
  return (
    <div style={{ position: 'absolute', left: 0, top: 0, width: 957, height: 1334, background: '#fff', overflow: 'hidden' }}>
      {/* A */}
      <T x={91} y={11} s={15} w={700}>A</T>
      {flowTitles.map((t, i) => <T key={t} x={flowX[i] + [55, 58, 49, 61][i]} y={21} s={15.5} f={FLOWFONT}>{t}</T>)}
      {flowX.map((x, i) => (
        <FlowPlot key={x} x={x} y={30} w={117} h={116} blobs={sscRow[i]} label={sscLabels[i]} labelAt={[88, 14]} dust={sscDust}
          gate={[[48, 4], [103, 4], [103, 112], [48, 112], [48, 4]]} />
      ))}
      <Line x1={125} y1={30} x2={125} y2={149} />
      <T x={125} y={91} s={22} r={-90} f={FLOWFONT} bg="#fff">SSC-A</T>
      <Line x1={141} y1={158} x2={615} y2={158} />
      <T x={381} y={158} s={21} f={FLOWFONT} bg="#fff">NKG2C</T>

      {flowX.map((x, i) => (
        <FlowPlot key={x} x={x} y={177} w={117} h={116} blobs={fcrRow[i]} label={fcrLabels[i]} labelAt={[14, 18]} dust={fcrDust}
          gate={[[0, 6], [40, 6], [40, 111], [0, 111]]} />
      ))}
      <Line x1={124} y1={175} x2={124} y2={292} />
      <T x={124} y={233} s={22} r={-90} f={FLOWFONT} bg="#fff">SSC-A</T>
      <Line x1={141} y1={307} x2={615} y2={307} />
      <T x={380} y={306} s={20} f={FLOWFONT} bg="#fff">FcRγ</T>

      {flowX.map((x, i) => (
        <FlowPlot key={x} x={x} y={327} w={117} h={116} blobs={cd57Row[i]} label={cd57Labels[i]} labelAt={[102, 13]} dust={cd57Dust}
          gate={[[55, 1], [80, 1], [80, 43], [55, 43], [55, 1]]} />
      ))}
      <Line x1={130} y1={328} x2={130} y2={443} />
      <T x={130} y={385} s={22} r={-90} f={FLOWFONT} bg="#fff">CD57</T>
      <Line x1={142} y1={456} x2={615} y2={456} />
      <T x={391} y={456} s={21} f={FLOWFONT} bg="#fff">NKG2C</T>

      <BoxChart plot={[694, 23, 782, 155]} xRange={[-0.65, 3.75]} yRange={[0, 60]} step={20} boxes={nkg2cBoxes} points={nkg2cPoints}
        colors={boxColors} shapes={boxShapes} barW={12} halfW={0.3} r={2.7} font={10} rotateLast />
      <Line x1={727} y1={22} x2={769} y2={22} />
      <Stars x={749} y={16} n={1} s={20} />
      <T x={666} y={90} s={15} r={-90}>%  NKG2C+ cells</T>

      <BoxChart plot={[698, 171, 784, 297]} xRange={[-0.66, 3.7]} yRange={[0, 100]} step={20} boxes={fcrBoxes} points={fcrPoints}
        colors={boxColors} shapes={boxShapes} barW={12} halfW={0.3} r={2.7} font={10} rotateLast />
      <T x={666} y={235} s={14} r={-90}>%  FcRγ- cells</T>

      <BoxChart plot={[695, 322, 784, 453]} xRange={[-0.69, 3.69]} yRange={[0, 40]} step={10} boxes={cd57Boxes} points={cd57Points}
        colors={boxColors} shapes={boxShapes} barW={12} halfW={0.3} r={2.7} font={10} rotateLast />
      <Line x1={730} y1={331} x2={770} y2={331} />
      <Stars x={751} y={325} n={1} s={20} />
      <T x={668} y={388} s={14.5} r={-90}>% CD57+NKG2C+ cells</T>

      {['Severe', 'Moderate', 'Mild', 'HC'].map((t, i) => (
        <div key={t}>
          <Swatch x={848} y={[198, 225, 253, 281][i]} w={22} h={11} color={boxColors[i]} />
          <T x={882} y={[198, 225, 253, 281][i]} s={16.5} left c="#111">{t}</T>
        </div>
      ))}

      {/* B */}
      <T x={190} y={523} s={15} w={700}>B</T>
      {flowTitles.map((t, i) => <T key={t} x={quadX[i] + [54, 58, 56, 60][i]} y={539} s={16} f={FLOWFONT}>{t}</T>)}
      {quadX.map((x, i) => (
        <div key={x}>
          <ChartCanvas rect={[x, 549, 121, 121]} make={() => flowConfig(121, 121, quadrantRow[i], quadGate, 1.5, quadrantSpeckle[i], undefined, quadrantCores[i])} />
          <div style={{ position: 'absolute', left: x, top: 549, width: 121, height: 121, boxSizing: 'border-box', border: '1.5px solid #999' }} />
          <T x={x + 15} y={562} s={11} f={FLOWFONT} c="#222">{quadrantLabels[i][0]}</T>
          <T x={x + 75} y={562} s={11} f={FLOWFONT} c="#222">{quadrantLabels[i][1]}</T>
          <T x={x + 15} y={656} s={11} f={FLOWFONT} c="#222">{quadrantLabels[i][2]}</T>
          <T x={x + 75} y={656} s={11} f={FLOWFONT} c="#222">{quadrantLabels[i][3]}</T>
        </div>
      ))}
      <Line x1={217} y1={550} x2={217} y2={672} />
      <T x={217} y={613} s={22} r={-90} f={FLOWFONT} bg="#fff">FcRγ</T>
      <Line x1={228} y1={683} x2={721} y2={683} />
      <T x={488} y={683} s={21} f={FLOWFONT} bg="#fff">NKG2C</T>

      {/* C */}
      <T x={193} y={752} s={15} w={700}>C</T>
      <StackChart stack={stackA} left={257} right={333} />
      <StackChart stack={stackB} left={382} right={457} />
      <StackChart stack={stackC} left={505} right={580} topLabel=".00" />
      <StackChart stack={stackD} left={629} right={705} />
      {[227, 351, 474, 598].map(x => <T key={x} x={x} y={838} s={12} w={700} r={-90}>Percentage</T>)}

      <Line x1={267} y1={747} x2={285} y2={747} /><Stars x={278} y={740} n={3} />
      <Line x1={286} y1={758} x2={322} y2={758} /><Stars x={306} y={752} n={4} />
      <Line x1={288} y1={775} x2={306} y2={775} /><Stars x={299} y={769} n={4} />
      <Line x1={391} y1={744} x2={447} y2={744} /><Stars x={421} y={738} n={3} />
      <Line x1={410} y1={757} x2={447} y2={757} /><Stars x={430} y={751} n={4} />
      <Line x1={412} y1={774} x2={430} y2={774} /><Stars x={423} y={767} n={2} />
      <Line x1={516} y1={744} x2={569} y2={744} /><Stars x={544} y={738} n={4} />
      <Line x1={516} y1={758} x2={552} y2={758} /><Stars x={535} y={751} n={1} />
      <Line x1={516} y1={775} x2={536} y2={775} /><Stars x={527} y={768} n={2} />
      <Line x1={638} y1={747} x2={657} y2={747} /><Stars x={649} y={740} n={1} />
      <Line x1={657} y1={758} x2={693} y2={758} /><Stars x={677} y={752} n={3} />
      <Line x1={659} y1={775} x2={677} y2={775} /><Stars x={671} y={768} n={4} />

      <Line x1={257} y1={955} x2={457} y2={955} />
      <T x={360} y={971} s={21}>CD57+NKG2C+</T>
      <Line x1={497} y1={955} x2={697} y2={955} />
      <T x={598} y={973} s={21}>FcRγ-</T>

      {[3, 2, 1, 0].map((k, i) => (
        <div key={k}>
          <Swatch x={736} y={[829, 847, 864, 882][i]} w={13} h={7} color={stackColors[k]} t={1.5} />
          <T x={758} y={[829, 847, 864, 882][i]} s={10.5} left c="#333">{stackNames[k]}</T>
        </div>
      ))}

      {/* D */}
      <T x={15} y={1013} s={15} w={700}>D</T>
      <TsneBox y={1042} yRange={[127, 512]} areas={tsneTopAreas} stray={tsneTopStray} />
      <TsneBox y={1174} yRange={[523, 908]} areas={tsneBottomAreas} stray={tsneBottomStray} />
      <T x={164} y={1096} s={17} f={FLOWFONT}>CMV+</T>
      <T x={163} y={1234} s={17} f={FLOWFONT}>CMV−</T>

      <div style={{ position: 'absolute', left: 199, top: 1033, width: 126, height: 174, boxSizing: 'border-box', border: '1px solid #aaa', fontFamily: FLOWFONT }}>
        <div style={{ height: 20, display: 'flex', borderBottom: '1px solid #bbb', background: 'linear-gradient(#f4f4f4,#dedede)' }}>
          <div style={{ width: 12, borderRight: '1px solid #bbb', background: '#fff' }} />
          <div style={{ flex: 1, textAlign: 'center', fontSize: 13.5, fontWeight: 700, lineHeight: '20px' }}>Subset Name</div>
        </div>
        {subsetRows.map(p => (
          <div key={p} style={{ height: 18.9, display: 'flex', borderBottom: '1px solid #ccc', boxSizing: 'border-box' }}>
            <div style={{ width: 12, borderRight: '1px solid #bbb', position: 'relative' }}>
              <div style={{ position: 'absolute', left: 2, top: 3, width: 7, height: 12, background: tsneColors[p] }} />
            </div>
            <div style={{ paddingLeft: 3, fontSize: 14, lineHeight: '18px', color: '#222' }}>{p}</div>
          </div>
        ))}
      </div>

      {['Severe', 'Moderate', 'Mild', 'HC'].map((t, i) => (
        <div key={t}>
          <Swatch x={223} y={[1237, 1265, 1292, 1320][i]} w={22} h={11} color={boxColors[i]} />
          <T x={257} y={[1237, 1265, 1292, 1320][i]} s={16} left c="#111">{t}</T>
        </div>
      ))}

      {/* E */}
      <T x={362} y={1013} s={15} w={700}>E</T>
      <ChartCanvas rect={[378, 1014, 381, 287]} make={heatConfig} />
      <ChartCanvas rect={[757, 1038, 45, 147]} make={colorbarConfig} />

      <T x={875} y={1028} s={14.5}>Pop 6</T>
      <BoxChart plot={[841, 1039, 911, 1143]} xRange={[-0.6, 7.7]} yRange={[0, 50]} step={10} boxes={pop6Boxes} points={pop6Points}
        colors={popColors} shapes={popShapes} barW={6} halfW={0.3} r={2.2} font={8} line={1.5} />
      <T x={817} y={1092} s={14} r={-90}>Percentage</T>
      <T x={826} y={1155} s={11}>CMV</T>
      {cmvSigns.map((s, i) => <T key={i} x={846 + i * 8.45} y={1154} s={10} w={700}>{s}</T>)}

      <T x={875} y={1194} s={14.5}>Pop 7</T>
      <BoxChart plot={[841, 1206, 911, 1225]} xRange={[-0.6, 7.7]} yRange={[20, 80]} step={60} yTicks={[20, 80]} boxes={pop7HighBoxes} points={pop7HighPoints}
        colors={popColors} shapes={popShapes} barW={6} halfW={0.3} r={2.2} font={8} line={1.5} hideX margins={[30, 8, 10, 2]} />
      <BoxChart plot={[841, 1233, 911, 1310]} xRange={[-0.6, 7.7]} yRange={[0, 20]} step={5} boxes={pop7LowBoxes} points={pop7LowPoints}
        colors={popColors} shapes={popShapes} barW={6} halfW={0.3} r={2.2} font={8} line={1.5} />
      <Line x1={863} y1={1211} x2={905} y2={1211} />
      <Stars x={885} y={1206} n={1} s={18} />
      <T x={817} y={1258} s={14} r={-90}>Percentage</T>
      <T x={826} y={1321} s={11}>CMV</T>
      {cmvSigns.map((s, i) => <T key={i} x={846 + i * 8.45} y={1320} s={10} w={700}>{s}</T>)}
    </div>
  );
}
